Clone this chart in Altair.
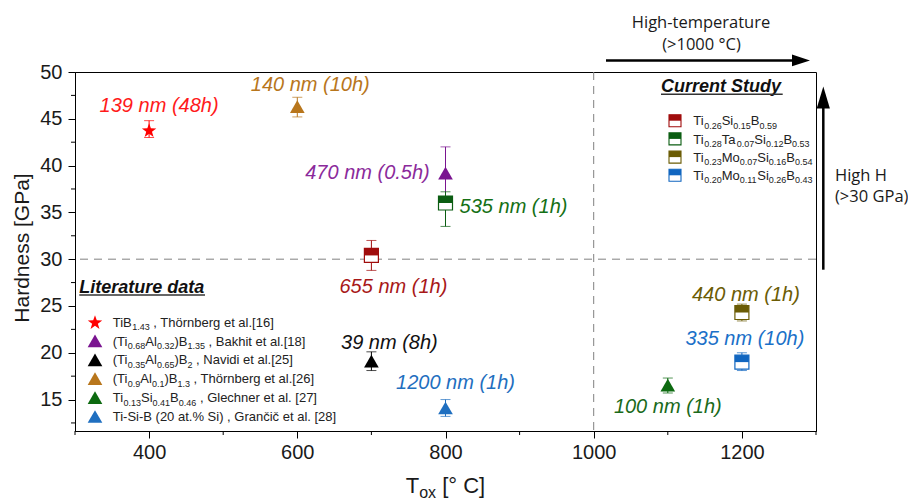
import math
import altair as alt
import pandas as pd

# ---------------- data ----------------
lit_temp = [400, 800, 700, 600, 1100, 800]
lit_hard = [43.8, 39.2, 19.1, 46.3, 16.55, 14.1]
lit_lo = [43.0, 36.5, 18.1, 45.2, 15.7, 13.2]
lit_hi = [44.8, 42.0, 20.1, 47.3, 17.3, 15.0]
lit_labels = ["139 nm (48h)", "470 nm (0.5h)", "39 nm (8h)", "140 nm (10h)", "100 nm (1h)", "1200 nm (1h)"]

cur_temp = [700, 800, 1200, 1200]
cur_hard = [30.4, 36.0, 24.3, 19.0]
cur_lo = [28.8, 33.5, 23.4, 18.1]
cur_hi = [32.0, 37.2, 25.2, 20.0]
cur_labels = ["655 nm (1h)", "535 nm (1h)", "440 nm (1h)", "335 nm (10h)"]

x_major = [400, 600, 800, 1000, 1200]
x_minor = [300, 500, 700, 900, 1100, 1300]
y_major = [15, 20, 25, 30, 35, 40, 45, 50]
y_minor = [12.5, 17.5, 22.5, 27.5, 32.5, 37.5, 42.5, 47.5]
h_ref = [30]
v_ref = [1000]

lit_legend = [
    [("TiB", 0), ("1.43", 1), (" , Thörnberg et al.[16]", 0)],
    [("(Ti", 0), ("0.68", 1), ("Al", 0), ("0.32", 1), (")B", 0), ("1.35", 1), (" , Bakhit et al.[18]", 0)],
    [("(Ti", 0), ("0.35", 1), ("Al", 0), ("0.65", 1), (")B", 0), ("2", 1), (" , Navidi et al.[25]", 0)],
    [("(Ti", 0), ("0.9", 1), ("Al", 0), ("0.1", 1), (")B", 0), ("1.3", 1), (" , Thörnberg et al.[26]", 0)],
    [("Ti", 0), ("0.13", 1), ("Si", 0), ("0.41", 1), ("B", 0), ("0.46", 1), (" , Glechner et al. [27]", 0)],
    [("Ti-Si-B (20 at.% Si) , Grančič et al. [28]", 0)],
]
cur_legend = [
    [("Ti", 0), ("0.26", 1), ("Si", 0), ("0.15", 1), ("B", 0), ("0.59", 1)],
    [("Ti", 0), ("0.28", 1), ("Ta", 0), ("0.07", 1), ("Si", 0), ("0.12", 1), ("B", 0), ("0.53", 1)],
    [("Ti", 0), ("0.23", 1), ("Mo", 0), ("0.07", 1), ("Si", 0), ("0.16", 1), ("B", 0), ("0.54", 1)],
    [("Ti", 0), ("0.20", 1), ("Mo", 0), ("0.11", 1), ("Si", 0), ("0.26", 1), ("B", 0), ("0.43", 1)],
]

# ---------------- styles ----------------
pts = []
for k in range(10):
    ang = -math.pi / 2 + k * math.pi / 5
    rr = 1.0 if k % 2 == 0 else 0.40
    pts.append((rr * math.cos(ang), rr * math.sin(ang) + 0.1))
STAR = "M " + " L ".join(f"{a:.3f} {b:.3f}" for a, b in pts) + " Z"
TRI = "triangle-up"

lit_colors = ["#ff0000", "#7a1490", "#000000", "#b8761c", "#0d6a10", "#1f6fc0"]
lit_label_colors = ["#ff1a1a", "#8b2a9b", "#111111", "#b8761c", "#1a6a1a", "#1f6fc0"]
lit_shapes = ["star", "tri", "tri", "tri", "tri", "tri"]
lit_offsets = [(10, -24), (-78, 0), (18, -18), (13, -22), (0, 22), (10, -25)]
cur_colors = ["#a00c0c", "#0b5d12", "#6b5c05", "#1166c0"]
cur_label_colors = ["#a81818", "#157015", "#6b5c05", "#1a70c8"]
cur_offsets = [(22, 32), (68, 3.5), (4, -18), (3, -23)]

W, H = 741, 359
FONT = "Liberation Sans"
HALF_TOP = "M -1 -1 L 1 -1 L 1 0 L -1 0 Z"
SHAPES = {"star": (STAR, 230), "tri": (TRI, 215)}

AW = {' ': 278, '!': 278, '%': 889, '(': 333, ')': 333, ',': 278, '-': 333, '.': 278,
      '[': 278, ']': 278, 'A': 667, 'B': 667, 'C': 722, 'G': 778, 'H': 722, 'M': 833,
      'N': 722, 'P': 667, 'S': 667, 'T': 611, 'a': 556, 'b': 556, 'c': 500, 'd': 556,
      'e': 556, 'g': 556, 'h': 556, 'i': 222, 'k': 500, 'l': 222, 'm': 833, 'n': 556,
      'o': 556, 'r': 333, 's': 500, 't': 278, 'u': 556, 'v': 500, 'x': 500, 'y': 500,
      'ö': 556, 'č': 500, '°': 400}
for d in "0123456789":
    AW[d] = 556


def tw(s, size):
    return sum(AW.get(c, 556) for c in s) * size / 1000.0


def seg_rows(segs, x0, ybase, main=13, sub=9, subdy=3.5, color="#222222"):
    rows = []
    x = x0
    for t, is_sub in segs:
        fs = sub if is_sub else main
        lead = len(t) - len(t.lstrip(' '))
        x += tw(' ' * lead, fs)
        txt = t.strip(' ')
        rows.append(dict(px=x, py=ybase + (subdy if is_sub else 0), t=txt, fs=fs, c=color))
        x += tw(txt, fs)
        trail = len(t) - len(t.rstrip(' '))
        x += tw(' ' * trail, fs)
    return rows


xs = alt.Scale(domain=[300, 1300], nice=False, zero=False)
ys = alt.Scale(domain=[11.64, 50], nice=False, zero=False)
xaxis = alt.Axis(values=x_major, title=None, grid=False, orient="bottom", format="d",
                 tickSize=7, labelPadding=4, labelFontSize=20, labelFont=FONT, labelFlush=False)
yaxis = alt.Axis(values=y_major, title=None, grid=False, orient="left", format="d",
                 tickSize=7, labelPadding=6, labelFontSize=20, labelFont=FONT, labelFlush=False)


def X(f):
    return alt.X(f, type="quantitative", scale=xs, axis=xaxis)


def Y(f):
    return alt.Y(f, type="quantitative", scale=ys, axis=yaxis)


PX = alt.X("px:Q", scale=None, axis=None)
PY = alt.Y("py:Q", scale=None, axis=None)

lit = pd.DataFrame(dict(temp=lit_temp, hard=lit_hard, lo=lit_lo, hi=lit_hi,
                        col=lit_colors, shp=lit_shapes))
cur = pd.DataFrame(dict(temp=cur_temp, hard=cur_hard, lo=cur_lo, hi=cur_hi, col=cur_colors))
allp = pd.concat([lit[["temp", "hard", "lo", "hi", "col"]], cur], ignore_index=True)
dummy = pd.DataFrame({"a": [0]})

layers = []

# error bars
layers.append(alt.Chart(allp).mark_rule(strokeWidth=1).encode(
    x=X("temp"), y=Y("lo"), y2=alt.Y2("hi"), color=alt.Color("col:N", scale=None)))

# minor ticks
layers.append(alt.Chart(pd.DataFrame({"v": x_minor})).mark_rule(color="black", strokeWidth=1).encode(
    x=X("v"), y=alt.value(H), y2=alt.value(H + 4)))
layers.append(alt.Chart(pd.DataFrame({"v": y_minor})).mark_rule(color="black", strokeWidth=1).encode(
    y=Y("v"), x=alt.value(-4), x2=alt.value(0)))

# reference dashed lines
layers.append(alt.Chart(pd.DataFrame({"v": h_ref})).mark_rule(
    color="#808080", strokeDash=[8, 6], strokeWidth=1).encode(y=Y("v")))
layers.append(alt.Chart(pd.DataFrame({"v": v_ref})).mark_rule(
    color="#808080", strokeDash=[8, 6], strokeWidth=1).encode(x=X("v")))

for f in ["lo", "hi"]:
    layers.append(alt.Chart(allp).mark_tick(orient="horizontal", size=10, thickness=1).encode(
        x=X("temp"), y=Y(f), color=alt.Color("col:N", scale=None)))

# literature markers
for key, (shp, sz) in SHAPES.items():
    sub = lit[lit["shp"] == key]
    layers.append(alt.Chart(sub).mark_point(shape=shp, filled=True, size=sz, opacity=1).encode(
        x=X("temp"), y=Y("hard"), color=alt.Color("col:N", scale=None)))

# current-study half-filled squares
layers.append(alt.Chart(cur).mark_point(shape="square", filled=False, fill="white",
                                        fillOpacity=1, size=196, strokeWidth=1.2, opacity=1).encode(
    x=X("temp"), y=Y("hard"), color=alt.Color("col:N", scale=None)))
layers.append(alt.Chart(cur).mark_point(shape=HALF_TOP, filled=True, size=196, opacity=1).encode(
    x=X("temp"), y=Y("hard"), color=alt.Color("col:N", scale=None)))

# data labels
for i in range(len(lit_labels)):
    d = pd.DataFrame({"temp": [lit_temp[i]], "hard": [lit_hard[i]], "t": [lit_labels[i]]})
    layers.append(alt.Chart(d).mark_text(font=FONT, fontSize=20, fontStyle="italic",
                                         align="center", baseline="middle",
                                         dx=lit_offsets[i][0], dy=lit_offsets[i][1],
                                         color=lit_label_colors[i]).encode(
        x=X("temp"), y=Y("hard"), text="t:N"))
for i in range(len(cur_labels)):
    d = pd.DataFrame({"temp": [cur_temp[i]], "hard": [cur_hard[i]], "t": [cur_labels[i]]})
    layers.append(alt.Chart(d).mark_text(font=FONT, fontSize=20, fontStyle="italic",
                                         align="center", baseline="middle",
                                         dx=cur_offsets[i][0], dy=cur_offsets[i][1],
                                         color=cur_label_colors[i]).encode(
        x=X("temp"), y=Y("hard"), text="t:N"))

# ---------------- legends (pixel layout) ----------------
lit_rows_y = [250, 268.9, 287.8, 306.7, 325.6, 344.5]
cur_rows_y = [48.7, 66.9, 85.1, 103.3]
txt_rows = []
for segs, yc in zip(lit_legend, lit_rows_y):
    txt_rows += seg_rows(segs, 37.7, yc + 4.6)
for segs, yc in zip(cur_legend, cur_rows_y):
    txt_rows += seg_rows(segs, 618.3, yc + 4.6)
xt = [("T", 0), ("ox", 1), (" [° C]", 0)]
xt_w = tw("T", 22) + tw("ox", 16) + tw(" [° C]", 22)
txt_rows += seg_rows(xt, W / 2 - xt_w / 2, 421, main=22, sub=16, subdy=4.5, color="#1a1a1a")
layers.append(alt.Chart(pd.DataFrame(txt_rows)).mark_text(
    font=FONT, align="left", baseline="alphabetic").encode(
    x=PX, y=PY, text="t:N", size=alt.Size("fs:Q", scale=None, legend=None),
    color=alt.Color("c:N", scale=None)))

# legend markers
lm = pd.DataFrame(dict(px=[20] * 6, py=lit_rows_y, col=lit_colors, shp=lit_shapes))
for key, (shp, sz) in SHAPES.items():
    layers.append(alt.Chart(lm[lm["shp"] == key]).mark_point(shape=shp, filled=True, size=sz,
                                                            opacity=1).encode(
        x=PX, y=PY, color=alt.Color("col:N", scale=None)))
cm = pd.DataFrame(dict(px=[600] * 4, py=cur_rows_y, col=cur_colors))
layers.append(alt.Chart(cm).mark_point(shape="square", filled=False, fill="white", fillOpacity=1,
                                       size=144, strokeWidth=1.1, opacity=1).encode(
    x=PX, y=PY, color=alt.Color("col:N", scale=None)))
layers.append(alt.Chart(cm).mark_point(shape=HALF_TOP, filled=True, size=144, opacity=1).encode(
    x=PX, y=PY, color=alt.Color("col:N", scale=None)))

# legend headers + underline
layers.append(alt.Chart(dummy).mark_text(font=FONT, fontSize=18, fontWeight="bold", fontStyle="italic",
                                         align="left", baseline="alphabetic", color="#111").encode(
    x=alt.value(4.3), y=alt.value(220.8), text=alt.value("Literature data")))
layers.append(alt.Chart(dummy).mark_rule(color="#333", strokeWidth=1.5).encode(
    x=alt.value(4.3), x2=alt.value(130), y=alt.value(223)))
layers.append(alt.Chart(dummy).mark_text(font=FONT, fontSize=18, fontWeight="bold", fontStyle="italic",
                                         align="left", baseline="alphabetic", color="#111").encode(
    x=alt.value(586), y=alt.value(20.1), text=alt.value("Current Study")))
layers.append(alt.Chart(dummy).mark_rule(color="#333", strokeWidth=1.5).encode(
    x=alt.value(586), x2=alt.value(707.7), y=alt.value(22.2)))

# y-axis title
layers.append(alt.Chart(dummy).mark_text(font=FONT, fontSize=21, angle=270, align="center",
                                         baseline="alphabetic", color="#1a1a1a").encode(
    x=alt.value(-46.5), y=alt.value(176), text=alt.value("Hardness [GPa]")))

# arrows and their annotations
layers.append(alt.Chart(dummy).mark_rule(color="black", strokeWidth=2.5).encode(
    x=alt.value(531), x2=alt.value(720), y=alt.value(-11.6)))
layers.append(alt.Chart(dummy).mark_point(shape="M 1 0 L -1 -0.65 L -1 0.65 Z", filled=True,
                                          size=324, color="black", opacity=1).encode(
    x=alt.value(726), y=alt.value(-11.6)))
layers.append(alt.Chart(dummy).mark_rule(color="black", strokeWidth=2.5).encode(
    x=alt.value(748.3), y=alt.value(197.7), y2=alt.value(34)))
layers.append(alt.Chart(dummy).mark_point(shape="M 0 -1 L -0.6 1 L 0.6 1 Z", filled=True,
                                          size=484, color="black", opacity=1).encode(
    x=alt.value(748.3), y=alt.value(25.4)))
ann_c = pd.DataFrame(dict(px=[626, 626.5], py=[-49, -27.3], t=["High-temperature", "(>1000 °C)"]))
ann_l = pd.DataFrame(dict(px=[760, 760], py=[103.5, 125], t=["High H", "(>30 GPa)"]))
layers.append(alt.Chart(ann_c).mark_text(font="Open Sans", fontSize=16.5, align="center",
                                         baseline="middle", color="#1a1a1a").encode(
    x=PX, y=PY, text="t:N"))
layers.append(alt.Chart(ann_l).mark_text(font="Open Sans", fontSize=16.5, align="left",
                                         baseline="middle", color="#1a1a1a").encode(
    x=PX, y=PY, text="t:N"))

chart = alt.layer(*layers).properties(
    width=W, height=H,
    autosize=alt.AutoSizeParams(type="none"),
    padding={"left": 75, "top": 72, "right": 92, "bottom": 71},
    background="white",
).configure_view(stroke="black", strokeWidth=1).configure_axis(
    domainColor="black", tickColor="black", labelColor="#1a1a1a", domainWidth=1, tickWidth=1)

chart.save("out.html", embed_options={"renderer": "svg", "actions": False})
